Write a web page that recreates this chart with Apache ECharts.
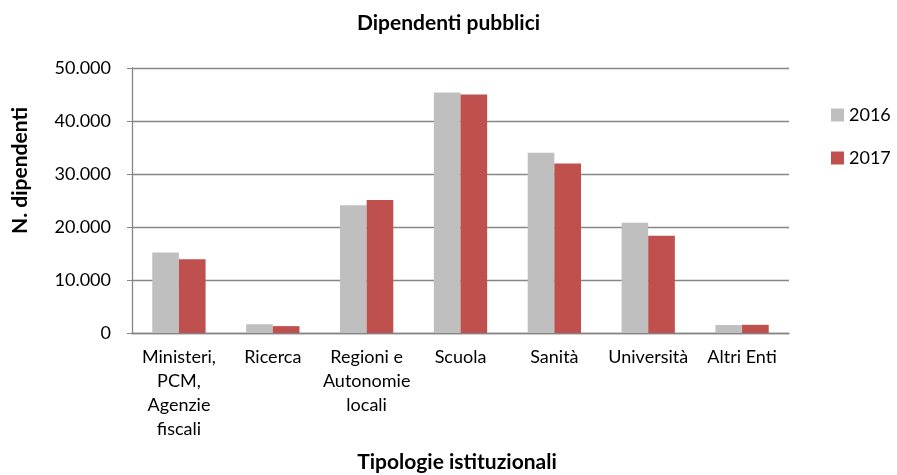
<!DOCTYPE html>
<html>
<head>
<meta charset="utf-8">
<script src="https://cdn.jsdelivr.net/npm/echarts@6/dist/echarts.min.js"></script>
<style>
  html, body { margin: 0; padding: 0; background: #fff; }
  #chart { width: 897px; height: 475px; }
</style>
</head>
<body>
<div id="chart"></div>
<script>
// categorie (a capo come nell'originale)
var categories = ['Ministeri,\nPCM,\nAgenzie\nfiscali', 'Ricerca', 'Regioni e\nAutonomie\nlocali', 'Scuola', 'Sanità', 'Università', 'Altri Enti'];
var anni = ['2016', '2017'];
var valori2016 = [15200, 1650, 24100, 45400, 34000, 20800, 1500];
var valori2017 = [13900, 1300, 25100, 45000, 32000, 18350, 1550];
var yTicks = [0, 10000, 20000, 30000, 40000, 50000];

var FONT = 'Lato';
var AXIS_GRAY = '#868686';

// formato italiano: punto per le migliaia
function fmt(v) {
  return String(v).replace(/\B(?=(\d{3})+(?!\d))/g, '.');
}

var myChart = echarts.init(document.getElementById('chart'));

var option = {
  animation: false,
  backgroundColor: '#fff',
  title: {
    text: 'Dipendenti pubblici',
    left: 'center',
    top: 8,
    padding: [5, 0, 5, 9],
    textStyle: { fontFamily: FONT, fontSize: 21, fontWeight: 'bold', color: '#000' }
  },
  legend: {
    orient: 'vertical',
    left: 826,
    top: 101,
    itemWidth: 13,
    itemHeight: 13,
    itemGap: 25,
    icon: 'rect',
    data: anni,
    textStyle: { fontFamily: FONT, fontSize: 18, color: '#000' }
  },
  grid: { left: 132, right: 108, top: 68, bottom: 142, outerBoundsMode: 'none', containLabel: false },
  xAxis: {
    type: 'category',
    data: categories,
    name: 'Tipologie istituzionali',
    nameLocation: 'middle',
    nameGap: 119,
    nameTextStyle: { fontFamily: FONT, fontSize: 21, fontWeight: 'bold', color: '#000', padding: [0, 7, 0, 0] },
    axisLine: { lineStyle: { color: AXIS_GRAY, width: 1.3 } },
    axisTick: { length: 5, lineStyle: { color: AXIS_GRAY } },
    axisLabel: {
      interval: 0,
      margin: 12,
      fontFamily: FONT,
      fontSize: 18,
      lineHeight: 24,
      color: '#000'
    }
  },
  yAxis: {
    type: 'value',
    min: yTicks[0],
    max: yTicks[yTicks.length - 1],
    interval: yTicks[1] - yTicks[0],
    name: 'N. dipendenti',
    nameLocation: 'middle',
    nameGap: 101,
    nameTextStyle: { fontFamily: FONT, fontSize: 21, fontWeight: 'bold', color: '#000', padding: [0, 0, 0, 60] },
    axisLine: { show: true, lineStyle: { color: AXIS_GRAY, width: 1.3 } },
    axisTick: { show: true, length: 5, lineStyle: { color: AXIS_GRAY } },
    splitLine: { lineStyle: { color: AXIS_GRAY, width: 1.3 } },
    axisLabel: {
      margin: 21,
      fontFamily: FONT,
      fontSize: 18,
      color: '#000',
      formatter: function (v) { return fmt(v); }
    }
  },
  series: [
    {
      name: anni[0],
      type: 'bar',
      data: valori2016,
      barWidth: '28.4%',
      barGap: '0%',
      itemStyle: { color: '#BFBFBF' }
    },
    {
      name: anni[1],
      type: 'bar',
      data: valori2017,
      barWidth: '28.4%',
      barGap: '0%',
      itemStyle: { color: '#C0504D' }
    }
  ]
};

myChart.setOption(option);
</script>
</body>
</html>
